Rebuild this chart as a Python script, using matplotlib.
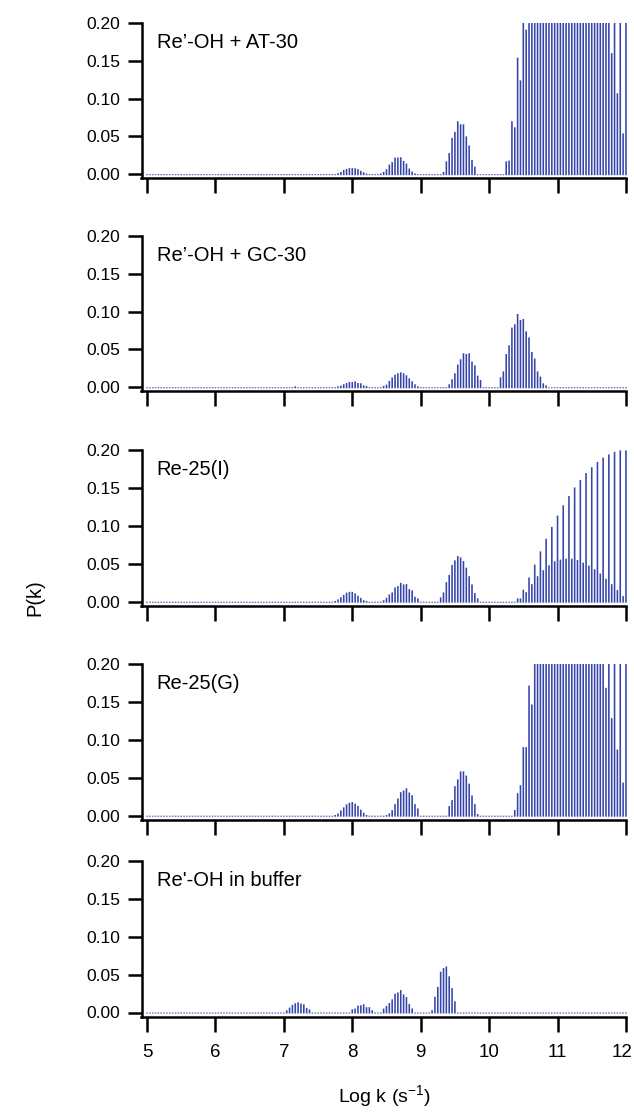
import numpy as np
import matplotlib
matplotlib.use('Agg')
import matplotlib.pyplot as plt
from matplotlib.transforms import ScaledTranslation

plt.rcParams['font.family'] = ['Liberation Sans', 'DejaVu Sans']
plt.rcParams['mathtext.fontset'] = 'custom'
plt.rcParams['mathtext.rm'] = 'Liberation Sans'
plt.rcParams['mathtext.it'] = 'Liberation Sans'

# sampling grid of the distribution, log k from 5 to 12
log_k = np.linspace(5, 12, 169)

# peaks as (first grid index, values); clipped spikes (> 0.20) read as 0.25
at30_peaks = [
    (67, [0.0013, 0.003, 0.0057, 0.007, 0.008, 0.008, 0.0079, 0.0066, 0.0044, 0.0026, 0.0009]),
    (82, [0.001, 0.003, 0.0066, 0.0127, 0.016, 0.022, 0.022, 0.0224, 0.0175, 0.014, 0.0075, 0.0035, 0.001]),
    (104, [0.003, 0.017, 0.028, 0.048, 0.056, 0.070, 0.066, 0.066, 0.050, 0.038, 0.019, 0.010]),
    (126, [0.017, 0.018, 0.070, 0.062, 0.154, 0.124, 0.25, 0.191,
           0.25, 0.25, 0.25, 0.25, 0.25, 0.25, 0.25, 0.25, 0.25, 0.25,
           0.25, 0.25, 0.25, 0.25, 0.25, 0.25, 0.25, 0.25, 0.25, 0.25,
           0.25, 0.25, 0.25, 0.25, 0.25, 0.25, 0.25, 0.25, 0.25,
           0.160, 0.25, 0.107, 0.25, 0.054, 0.25]),
]
gc30_peaks = [
    (52, [0.0013]),
    (67, [0.0013, 0.0022, 0.004, 0.0057, 0.007, 0.007, 0.0079, 0.0057, 0.0053, 0.0026, 0.0018]),
    (83, [0.0018, 0.0035, 0.0084, 0.013, 0.0167, 0.0185, 0.0198, 0.0185, 0.0159, 0.0119, 0.0079, 0.004, 0.0013]),
    (106, [0.004, 0.0106, 0.0185, 0.030, 0.037, 0.045, 0.044, 0.045, 0.034, 0.029, 0.0154, 0.0097]),
    (124, [0.0132, 0.0211, 0.044, 0.0555, 0.0789, 0.0833, 0.0969, 0.089, 0.0903, 0.074,
           0.066, 0.0467, 0.0379, 0.0211, 0.0141, 0.0053, 0.0026]),
]
re25i_peaks = [
    (66, [0.001, 0.003, 0.006, 0.009, 0.012, 0.013, 0.013, 0.011, 0.008, 0.005, 0.002, 0.001]),
    (83, [0.002, 0.005, 0.0096, 0.0123, 0.0188, 0.0206, 0.025, 0.0228, 0.0232, 0.0166, 0.0149, 0.0066, 0.0044]),
    (103, [0.0057, 0.0123, 0.0258, 0.0354, 0.0486, 0.0547, 0.0604, 0.0586, 0.0538, 0.045,
           0.0337, 0.0228, 0.0114, 0.0044]),
    (130, [0.0044, 0.0044, 0.0158, 0.0127, 0.032, 0.0232, 0.049, 0.0337, 0.0665, 0.0416,
           0.0832, 0.0481, 0.0989, 0.0534, 0.1138, 0.0556, 0.1274, 0.0569, 0.1396, 0.0569,
           0.151, 0.0551, 0.161, 0.0516, 0.170, 0.0477, 0.1777, 0.0429, 0.1847, 0.0372,
           0.1904, 0.0302, 0.1947, 0.0232, 0.1982, 0.0153, 0.200, 0.0074, 0.200]),
]
re25g_peaks = [
    (66, [0.001, 0.003, 0.007, 0.011, 0.015, 0.017, 0.018, 0.016, 0.013, 0.008, 0.004, 0.001]),
    (84, [0.0009, 0.0031, 0.0074, 0.0153, 0.0228, 0.0311, 0.0333, 0.0363, 0.0306, 0.0271, 0.0153, 0.0096]),
    (106, [0.0127, 0.0206, 0.039, 0.048, 0.0586, 0.0586, 0.053, 0.0424, 0.0267, 0.0153, 0.0022]),
    (129, [0.0074, 0.0297, 0.0403, 0.0906, 0.0906, 0.172, 0.147,
           0.25, 0.25, 0.25, 0.25, 0.25, 0.25, 0.25, 0.25, 0.25, 0.25,
           0.25, 0.25, 0.25, 0.25, 0.25, 0.25, 0.25, 0.25, 0.25, 0.25,
           0.25, 0.25, 0.25, 0.25, 0.25,
           0.169, 0.25, 0.129, 0.25, 0.0875, 0.25, 0.0438, 0.25]),
]
buffer_peaks = [
    (49, [0.003, 0.0065, 0.010, 0.0122, 0.0135, 0.0117, 0.0109, 0.0061, 0.004]),
    (72, [0.0043, 0.0052, 0.0091, 0.0096, 0.0109, 0.007, 0.007, 0.003]),
    (83, [0.0052, 0.0087, 0.0126, 0.0174, 0.0248, 0.0265, 0.0296, 0.0239, 0.0204, 0.0113, 0.0052]),
    (100, [0.003, 0.0209, 0.0339, 0.0539, 0.0587, 0.0609, 0.0478, 0.0322, 0.0148]),
]

labels = ["Re\u2019-OH + AT-30", "Re\u2019-OH + GC-30", "Re-25(I)", "Re-25(G)", "Re'-OH in buffer"]
all_peaks = [at30_peaks, gc30_peaks, re25i_peaks, re25g_peaks, buffer_peaks]

y_ticks = [0.00, 0.05, 0.10, 0.15, 0.20]
x_ticks = [5, 6, 7, 8, 9, 10, 11, 12]

W, H = 634, 1112
fig = plt.figure(figsize=(W / 100, H / 100), dpi=100)

left_px, right_px = 141.5, 626.5
zero_px = [174.2, 387.3, 601.7, 815.7, 1012.5]   # pixel row of P = 0 in each panel
span = 151.3
ybot = -4 / span * 0.2

for j, (peaks, lab) in enumerate(zip(all_peaks, labels)):
    y0 = zero_px[j]
    top = y0 - span
    bot = y0 + 4
    ax = fig.add_axes([left_px / W, 1 - bot / H, (right_px - left_px) / W, (bot - top) / H])

    p = np.zeros(len(log_k))
    for start, vals in peaks:
        p[start:start + len(vals)] = vals

    # every point gets a short stub at the baseline, like the dotted zero line
    ax.vlines(log_k, -0.0013, p, color='#3545aa', lw=1.15, snap=False)

    ax.set_xlim(5 - 5.5 / 68.3, 12.008)
    ax.set_ylim(ybot, 0.2)
    for s in ['top', 'right']:
        ax.spines[s].set_visible(False)
    for s in ['left', 'bottom']:
        ax.spines[s].set_linewidth(1.8)
    ax.set_yticks(y_ticks)
    ax.set_yticklabels(['%.2f' % v for v in y_ticks])
    ax.set_xticks(x_ticks)
    ax.tick_params(axis='y', direction='out', length=10, width=1.8, pad=5.5, labelsize=12.5)
    ax.tick_params(axis='x', direction='out', length=10.5, width=1.8, pad=9, labelsize=13.5)
    if j < 4:
        ax.set_xticklabels([])
    else:
        ax.set_xticklabels([str(v) for v in x_ticks])
        last = ax.get_xticklabels()[-1]
        last.set_transform(last.get_transform() + ScaledTranslation(-4 / 100, 0, fig.dpi_scale_trans))
        ax.set_xlabel('Log k (s$^{-1}$)', fontsize=14, labelpad=16)

    ax.text(0.031, 0.875, lab, transform=ax.transAxes, fontsize=14.5, va='center', ha='left')

fig.text(35 / W, 1 - 598 / H, 'P(k)', rotation=90, fontsize=14.5, va='center', ha='center')

fig.savefig('out.png', dpi=100)
